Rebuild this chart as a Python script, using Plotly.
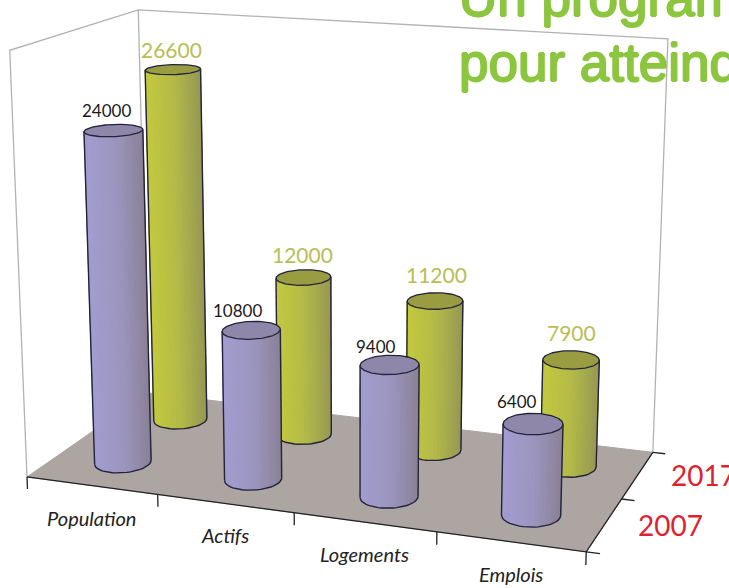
import numpy as np
import plotly.graph_objects as go

# ---- data ----
categories = ["Population", "Actifs", "Logements", "Emplois"]
series_names = ["2007", "2017"]
values_2007 = [24000, 10800, 9400, 6400]
values_2017 = [26600, 12000, 11200, 7900]
z_top = 30000
title_lines = ["Un programme", "pour atteindre"]

W, H = 729, 588

# ---- perspective camera of the chart: box corners (x, y, z) and where they sit on the page ----
box_corners = [(0, 0, 0), (4, 0, 0), (4, 2, 0), (0, 2, 0), (0, 0, z_top), (0, 2, z_top), (4, 2, z_top)]
page_corners = [(27, 477), (586, 552), (653, 452), (148, 393), (10, 50), (138, 10), (668, 39)]

# nudges of the value labels, in page pixels
label_dx = [[-7, -14, -14, -16], [-1, -1, 1, 0]]
label_dy = [[-20, -20, -18, -22], [-20, -23, -26, -27]]


def norm3(p):
    return np.array([p[0] / 4.0, p[1] / 2.0, p[2] / z_top, 1.0])


rows = []
for c, (u, v) in zip(box_corners, page_corners):
    X = norm3(c)
    rows.append(np.concatenate([X, np.zeros(4), -u * X]))
    rows.append(np.concatenate([np.zeros(4), X, -v * X]))
P = np.linalg.svd(np.array(rows))[2][-1].reshape(3, 4)


def proj(x, y, z):
    h = P @ norm3((x, y, z))
    return h[0] / h[2], h[1] / h[2]


fig = go.Figure()


def poly(pts, fill, line=None, width=1):
    xs = [p[0] for p in pts] + [pts[0][0]]
    ys = [p[1] for p in pts] + [pts[0][1]]
    fig.add_trace(go.Scatter(x=xs, y=ys, mode="lines", fill="toself", fillcolor=fill,
                             line=dict(color=line or fill, width=width), hoverinfo="skip", showlegend=False))


def path(pts, color, width=1.3):
    fig.add_trace(go.Scatter(x=[p[0] for p in pts], y=[p[1] for p in pts], mode="lines",
                             line=dict(color=color, width=width), hoverinfo="skip", showlegend=False))


WALL = "#b2b2b2"
INK = "#23233a"
n_cat, n_ser = len(categories), len(series_names)

# walls
path([proj(0, 0, 0), proj(0, 0, z_top), proj(0, n_ser, z_top), proj(n_cat, n_ser, z_top), proj(n_cat, n_ser, 0)], WALL)
path([proj(0, n_ser, 0), proj(0, n_ser, z_top)], WALL)
# floor
poly([proj(0, 0, 0), proj(n_cat, 0, 0), proj(n_cat, n_ser, 0), proj(0, n_ser, 0)], "#aca5a2")
# axis lines and ticks
path([proj(0, 0, 0), proj(n_cat, 0, 0), proj(n_cat, n_ser, 0)], "#222222")
for i in range(n_cat + 1):
    path([proj(i, 0, 0), proj(i, 0, -900)], "#222222")
for j in range(n_ser + 1):
    path([proj(n_cat, j, 0), proj(n_cat + 0.09, j, 0)], "#222222")


def mix(a, b, t):
    a = np.array(a); b = np.array(b)
    c = a + (b - a) * t
    return "rgb(%d,%d,%d)" % tuple(c.round().astype(int))


styles = [dict(l=(162, 157, 208), m=(155, 149, 190), r=(138, 129, 150), cap="#8e87aa"),
          dict(l=(196, 202, 60), m=(178, 184, 72), r=(150, 152, 82), cap="#9a9c42")]
RX, RY = 0.195, 0.22
TH = np.linspace(0, 2 * np.pi, 145)


def cylinder(cx, cy, v, st):
    ring = lambda a, z: proj(cx + RX * np.cos(a), cy + RY * np.sin(a), z)
    sx = [ring(a, 0)[0] for a in TH[:-1]]
    a0, a1 = TH[int(np.argmin(sx))], TH[int(np.argmax(sx))]
    # visible arc: the one passing through the lower (nearer) page points
    if a1 < a0:
        a1 += 2 * np.pi
    arc1 = np.linspace(a0, a1, 25)
    arc2 = np.linspace(a0 + 2 * np.pi, a1, 25)
    arc = arc1 if np.mean([ring(a, 0)[1] for a in arc1]) > np.mean([ring(a, 0)[1] for a in arc2]) else arc2
    xl, xr = ring(arc[0], 0)[0], ring(arc[-1], 0)[0]
    for a, b in zip(arc[:-1], arc[1:]):
        t = ((ring(a, 0)[0] + ring(b, 0)[0]) / 2 - xl) / (xr - xl)
        col = mix(st["l"], st["m"], t / 0.55) if t < 0.55 else mix(st["m"], st["r"], (t - 0.55) / 0.45)
        poly([ring(a, 0), ring(b, 0), ring(b, v), ring(a, v)], col)
    top = [ring(a, v) for a in TH]
    poly(top[:-1], st["cap"], INK, 1.3)
    path([ring(a, 0) for a in arc], INK, 1.4)
    path([ring(arc[0], 0), ring(arc[0], v)], INK, 1.4)
    path([ring(arc[-1], 0), ring(arc[-1], v)], INK, 1.4)


series_values = [values_2007, values_2017]
for j in [1, 0]:
    for i, v in enumerate(series_values[j]):
        cylinder(i + 0.5, j + 0.5, v, styles[j])

anns = []
for i, c in enumerate(categories):
    px, py = proj(i + 0.5, 0, 0)
    anns.append(dict(x=px, y=py + 32, text="<i>" + c + "</i>", showarrow=False,
                     font=dict(family="Lato", size=20, color="#222222")))
for j, name in enumerate(series_names):
    px, py = proj(n_cat, j + 0.5, 0)
    anns.append(dict(x=px + 66, y=py, text=name, showarrow=False,
                     font=dict(family="Lato", size=28, color="#dd2230")))
value_colors = ["#1a1a1a", "#b9bd55"]
value_sizes = [17, 21]
for j in range(n_ser):
    for i, v in enumerate(series_values[j]):
        px, py = proj(i + 0.5, j + 0.5, v)
        anns.append(dict(x=px + label_dx[j][i], y=py + label_dy[j][i], text=str(v), showarrow=False,
                         font=dict(family="Lato", size=value_sizes[j], color=value_colors[j])))

GREEN = "#8cc63f"
for line, base in zip(title_lines, [29, 94]):
    anns.append(dict(x=457, y=base, xanchor="left", yanchor="bottom", text=line, showarrow=False, align="left",
                     font=dict(family="Liberation Sans", size=53, color=GREEN,
                               shadow=f"1px 0 0 {GREEN}, -1px 0 0 {GREEN}, 0 1px 0 {GREEN}, 0 -1px 0 {GREEN}")))

fig.update_layout(
    width=W, height=H, margin=dict(l=0, r=0, t=0, b=0), paper_bgcolor="white", plot_bgcolor="white",
    showlegend=False, annotations=anns,
    xaxis=dict(range=[0, W], visible=False, fixedrange=True),
    yaxis=dict(range=[H, 0], visible=False, fixedrange=True),
)
fig.write_html("out.html", config=dict(displayModeBar=False),
               post_script="document.body.style.margin='0';document.body.style.overflow='hidden';")
